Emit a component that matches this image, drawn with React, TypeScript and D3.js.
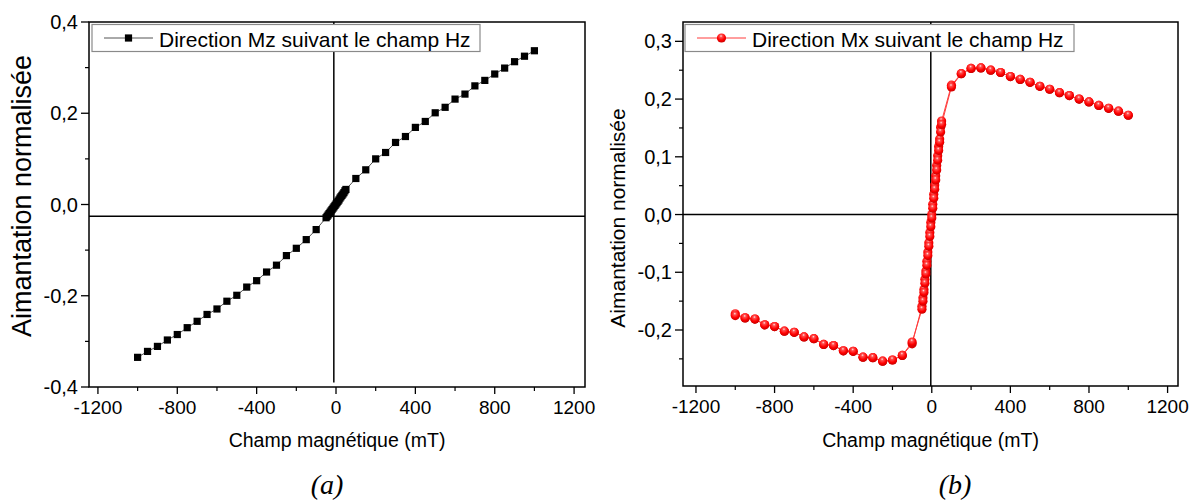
import React from 'react';
import * as d3 from 'd3';

// ---------- data ----------
const fieldMT = [
  -1000, -950, -900, -850, -800, -750, -700, -650, -600, -550, -500, -450, -400, -350, -300, -250, -200, -150, -100,
  -50, -45, -40, -35, -30, -25, -20, -15, -10, -5, 0, 5, 10, 15, 20, 25, 30, 35, 40, 45, 50,
  100, 150, 200, 250, 300, 350, 400, 450, 500, 550, 600, 650, 700, 750, 800, 850, 900, 950, 1000,
];

const mzValues = [
  -0.335, -0.322, -0.311, -0.297, -0.285, -0.270, -0.256, -0.241, -0.229, -0.212, -0.199, -0.181, -0.167, -0.148, -0.133, -0.112, -0.096, -0.077, -0.055,
  -0.029, -0.026, -0.023, -0.020, -0.017, -0.014, -0.011, -0.008, -0.005, -0.002, 0.001, 0.004, 0.007, 0.010, 0.014, 0.017, 0.020, 0.023, 0.026, 0.030, 0.033,
  0.057, 0.076, 0.100, 0.114, 0.136, 0.149, 0.169, 0.182, 0.201, 0.213, 0.231, 0.242, 0.260, 0.272, 0.286, 0.299, 0.313, 0.325, 0.337,
];

const mxUpValues = [
  -0.172, -0.179, -0.181, -0.191, -0.194, -0.202, -0.204, -0.212, -0.215, -0.225, -0.227, -0.236, -0.237, -0.247, -0.248, -0.254, -0.252, -0.244, -0.224,
  -0.159, -0.144, -0.130, -0.112, -0.098, -0.081, -0.065, -0.049, -0.031, -0.014, 0.000, 0.018, 0.035, 0.051, 0.067, 0.085, 0.102, 0.118, 0.131, 0.151, 0.162,
  0.224, 0.244, 0.253, 0.254, 0.250, 0.246, 0.239, 0.234, 0.229, 0.222, 0.217, 0.211, 0.206, 0.200, 0.195, 0.189, 0.184, 0.179, 0.172,
];

const mxDownValues = [
  -0.175, -0.179, -0.181, -0.191, -0.194, -0.202, -0.204, -0.212, -0.215, -0.225, -0.227, -0.236, -0.237, -0.247, -0.248, -0.254, -0.252, -0.244, -0.221,
  -0.164, -0.150, -0.135, -0.119, -0.103, -0.088, -0.071, -0.055, -0.038, -0.021, -0.006, 0.011, 0.028, 0.044, 0.060, 0.077, 0.094, 0.111, 0.125, 0.143, 0.156,
  0.221, 0.244, 0.253, 0.254, 0.250, 0.246, 0.239, 0.234, 0.229, 0.222, 0.217, 0.211, 0.206, 0.200, 0.195, 0.189, 0.184, 0.179, 0.172,
];

const xTicks = [-1200, -800, -400, 0, 400, 800, 1200];
const xMinorTicks = [-1000, -600, -200, 200, 600, 1000];
const leftYTicks = [-0.4, -0.2, 0, 0.2, 0.4];
const leftYMinorTicks = [-0.3, -0.1, 0.1, 0.3];
const rightYTicks = [-0.2, -0.1, 0, 0.1, 0.2, 0.3];
const rightYMinorTicks = [-0.25, -0.15, -0.05, 0.05, 0.15, 0.25];

const xTitle = 'Champ magnétique (mT)';
const yTitle = 'Aimantation normalisée';
const legendLeft = 'Direction Mz suivant le champ Hz';
const legendRight = 'Direction Mx suivant le champ Hz';

const SANS = '"Liberation Sans", Arial, sans-serif';
const SERIF = '"Liberation Serif", "Times New Roman", serif';

const fmt = (v: number) => v.toFixed(1).replace('.', ',');

type PanelProps = {
  frame: { x0: number; x1: number; y0: number; y1: number };
  xDomain: [number, number];
  yDomain: [number, number];
  yTicks: number[];
  yMinor: number[];
  series: number[][];
  marker: 'square' | 'sphere';
  legendText: string;
  legendBox: { x: number; w: number };
  crossX: number;
  crossY: number;
  crossXBottom: number;
  yTitleSize: number;
  yTitleCenter: number;
  caption: string;
  captionX: number;
};

function Panel(p: PanelProps) {
  const { frame } = p;
  const x = d3.scaleLinear().domain(p.xDomain).range([frame.x0, frame.x1]);
  const y = d3.scaleLinear().domain(p.yDomain).range([frame.y1, frame.y0]);
  const isSphere = p.marker === 'sphere';
  const lineColor = isSphere ? '#ff3c3c' : '#555';
  const line = d3
    .line<[number, number]>()
    .x((d) => x(d[0]))
    .y((d) => y(d[1]));

  const seriesPts = p.series.map((vals) => fieldMT.map((h, i) => [h, vals[i]] as [number, number]));

  const drawMarker = (cx: number, cy: number, key: string) =>
    isSphere ? (
      <circle key={key} cx={cx} cy={cy} r={4.6} fill="url(#sphereGrad)" />
    ) : (
      <rect key={key} x={cx - 3.6} y={cy - 3.6} width={7.2} height={7.2} fill="#000" />
    );

  const lgY = 24.5;
  const lgH = 27;
  const lgMid = lgY + lgH / 2;

  return (
    <g>
      {/* crosshair lines */}
      <line x1={x(p.crossX)} x2={x(p.crossX)} y1={frame.y0} y2={y(p.crossXBottom)} stroke="#000" strokeWidth={1.5} />
      <line x1={frame.x0} x2={frame.x1} y1={y(p.crossY)} y2={y(p.crossY)} stroke="#000" strokeWidth={1.5} />

      {/* data */}
      {seriesPts.map((pts, si) => (
        <path key={'l' + si} d={line(pts) || ''} fill="none" stroke={lineColor} strokeWidth={1} />
      ))}
      {seriesPts.map((pts, si) => pts.map((d, i) => drawMarker(x(d[0]), y(d[1]), si + '-' + i)))}

      {/* frame */}
      <rect x={frame.x0} y={frame.y0} width={frame.x1 - frame.x0} height={frame.y1 - frame.y0} fill="none" stroke="#000" strokeWidth={1.5} />

      {/* x ticks */}
      {xTicks.map((t) => (
        <g key={'xt' + t}>
          <line x1={x(t)} x2={x(t)} y1={frame.y1} y2={frame.y1 + 7} stroke="#000" strokeWidth={1.3} />
          <text x={x(t)} y={frame.y1 + 27} textAnchor="middle" fontFamily={SANS} fontSize={19} fill="#000">
            {String(t)}
          </text>
        </g>
      ))}
      {xMinorTicks.map((t) => (
        <line key={'xm' + t} x1={x(t)} x2={x(t)} y1={frame.y1} y2={frame.y1 + 4} stroke="#000" strokeWidth={1.2} />
      ))}

      {/* y ticks */}
      {p.yTicks.map((t) => (
        <g key={'yt' + t}>
          <line x1={frame.x0 - 8} x2={frame.x0} y1={y(t)} y2={y(t)} stroke="#000" strokeWidth={1.3} />
          <text x={frame.x0 - 11} y={y(t)} dy="0.35em" textAnchor="end" fontFamily={SANS} fontSize={20} fill="#000">
            {fmt(t)}
          </text>
        </g>
      ))}
      {p.yMinor.map((t) => (
        <line key={'ym' + t} x1={frame.x0 - 4} x2={frame.x0} y1={y(t)} y2={y(t)} stroke="#000" strokeWidth={1.2} />
      ))}

      {/* axis titles */}
      <text x={(frame.x0 + frame.x1) / 2} y={447} textAnchor="middle" fontFamily={SANS} fontSize={19.5} fill="#000">
        {xTitle}
      </text>
      <text
        transform={`translate(${frame.x0 - 58},${p.yTitleCenter}) rotate(-90)`}
        textAnchor="middle"
        fontFamily={SANS}
        fontSize={p.yTitleSize}
        fill="#000"
      >
        {yTitle}
      </text>

      {/* legend */}
      <rect x={p.legendBox.x} y={lgY} width={p.legendBox.w} height={lgH} fill="#fff" stroke="#8a8a8a" strokeWidth={1.2} />
      <line x1={p.legendBox.x + 12} x2={p.legendBox.x + 61} y1={lgMid} y2={lgMid} stroke={lineColor} strokeWidth={1} />
      {drawMarker(p.legendBox.x + 36.5, lgMid, 'legend')}
      <text x={p.legendBox.x + 67} y={lgY + 22} fontFamily={SANS} fontSize={21} fill="#000">
        {p.legendText}
      </text>

      {/* caption */}
      <text x={p.captionX} y={494} textAnchor="middle" fontFamily={SERIF} fontStyle="italic" fontSize={28} fill="#000">
        {p.caption}
      </text>
    </g>
  );
}

export default function App() {
  return (
    <svg width={1194} height={504} style={{ position: 'absolute', left: 0, top: 0, background: '#fff' }}>
      <defs>
        <radialGradient id="sphereGrad" cx="45%" cy="35%" r="65%" fx="45%" fy="28%">
          <stop offset="0%" stopColor="#ffe6e6" />
          <stop offset="22%" stopColor="#ff5050" />
          <stop offset="65%" stopColor="#ff0000" />
          <stop offset="100%" stopColor="#c80000" />
        </radialGradient>
      </defs>
      <rect x={0} y={0} width={1194} height={504} fill="#fff" />
      <Panel
        frame={{ x0: 89, x1: 585, y0: 22, y1: 387 }}
        xDomain={[-1245, 1255]}
        yDomain={[-0.4, 0.4]}
        yTicks={leftYTicks}
        yMinor={leftYMinorTicks}
        series={[mzValues]}
        marker="square"
        legendText={legendLeft}
        legendBox={{ x: 92, w: 388 }}
        crossX={-11}
        crossY={-0.026}
        crossXBottom={-0.39}
        yTitleSize={27}
        yTitleCenter={196}
        caption="(a)"
        captionX={327}
      />
      <Panel
        frame={{ x0: 683, x1: 1178, y0: 22, y1: 386 }}
        xDomain={[-1266, 1253]}
        yDomain={[-0.297, 0.3335]}
        yTicks={rightYTicks}
        yMinor={rightYMinorTicks}
        series={[mxUpValues, mxDownValues]}
        marker="sphere"
        legendText={legendRight}
        legendBox={{ x: 685, w: 389 }}
        crossX={-5}
        crossY={0}
        crossXBottom={-0.297}
        yTitleSize={21}
        yTitleCenter={218}
        caption="(b)"
        captionX={955}
      />
    </svg>
  );
}
